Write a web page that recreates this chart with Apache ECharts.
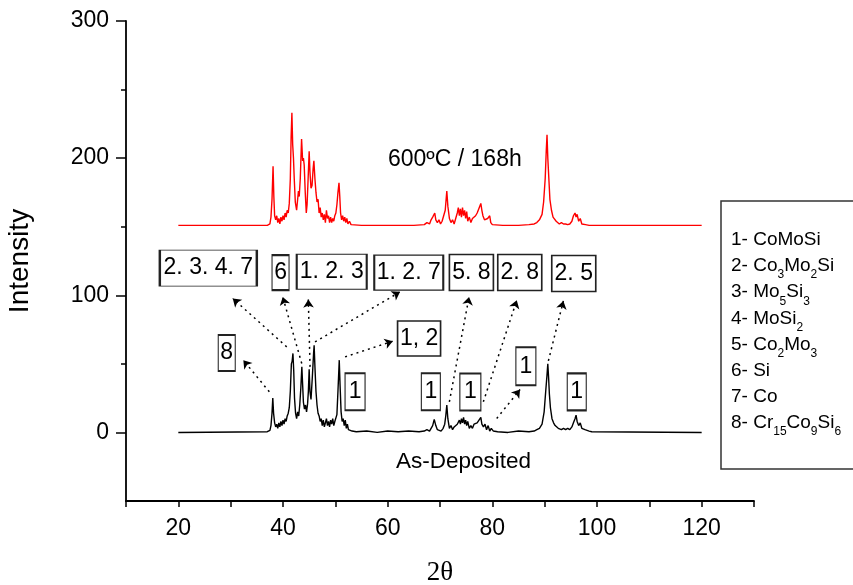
<!DOCTYPE html>
<html>
<head>
<meta charset="utf-8">
<script src="https://cdn.jsdelivr.net/npm/echarts@6.0.0/dist/echarts.min.js"></script>
<style>
  html, body { margin: 0; padding: 0; background: #fff; }
  #main { width: 853px; height: 585px; }
</style>
</head>
<body>
<div id="main"></div>
<script>
// [2θ, intensity]
const asDeposited = [
  [20, 0], [37, 0.5], [37.5, 1.5], [37.7, 5], [37.9, 14], [38.05, 25], [38.2, 14], [38.4, 7], [38.6, 4], [38.8, 6],
  [39.0, 3], [39.2, 7], [39.4, 4], [39.6, 8], [39.8, 5], [40.0, 9], [40.2, 6], [40.4, 10], [40.6, 8], [40.8, 12],
  [41.0, 14], [41.2, 18], [41.4, 30], [41.6, 50], [41.75, 52], [41.9, 57.6], [42.05, 45], [42.2, 25], [42.4, 14],
  [42.6, 10], [42.8, 15], [43.0, 12], [43.2, 20], [43.4, 32], [43.6, 47.8], [43.75, 35], [43.9, 22], [44.1, 17],
  [44.3, 20], [44.5, 15], [44.7, 21], [44.85, 30], [45.0, 46], [45.15, 30], [45.35, 24], [45.6, 40], [45.85, 58],
  [45.95, 63.6], [46.1, 48], [46.3, 30], [46.5, 20], [46.7, 14], [46.9, 12], [47.1, 8], [47.3, 10], [47.5, 5],
  [47.7, 9], [47.9, 4], [48.1, 7], [48.3, 10], [48.5, 5], [48.7, 8], [48.9, 4], [49.1, 9], [49.3, 6], [49.5, 10],
  [49.7, 5], [49.9, 8], [50.1, 9], [50.3, 13], [50.5, 30], [50.75, 52.7], [50.9, 35], [51.1, 15], [51.3, 8],
  [51.5, 10], [51.7, 5], [51.9, 9], [52.1, 3], [52.3, 6], [52.5, 2], [52.8, 3], [53.2, 1], [54, 0.5], [56, 1],
  [58, 0], [60, 1], [62, 0.5], [64, 1], [66, 0.5], [67, 1], [67.5, 2], [68, 1], [68.3, 3], [68.6, 5], [68.9, 9.5],
  [69.2, 5], [69.5, 2], [69.8, 3], [70.2, 1], [70.6, 3], [70.9, 6], [71.1, 12], [71.3, 20], [71.5, 10], [71.8, 3],
  [72.1, 5], [72.4, 2], [72.7, 4], [73.0, 3], [73.3, 6], [73.5, 5], [73.7, 9], [73.9, 6], [74.1, 10], [74.3, 7],
  [74.5, 11], [74.7, 6], [74.9, 9], [75.1, 5], [75.3, 8], [75.6, 3], [75.9, 5], [76.2, 3], [76.5, 6], [76.8, 5],
  [77.1, 7], [77.4, 8], [77.8, 11], [78.0, 6], [78.3, 4], [78.6, 6], [78.9, 2], [79.2, 5], [79.5, 1], [79.8, 3],
  [80.2, 1], [81, 0.5], [83, 0], [85, 1], [87, 0.5], [88, 1], [88.5, 2], [89, 3], [89.5, 6], [89.9, 15],
  [90.2, 30], [90.45, 42], [90.6, 50], [90.75, 40], [90.9, 28], [91.1, 18], [91.4, 10], [91.7, 7], [92.0, 5],
  [92.3, 6], [92.6, 3], [92.9, 4], [93.2, 2], [93.6, 3], [94.0, 2], [94.4, 3], [94.8, 2], [95.2, 4], [95.5, 7],
  [95.8, 10], [96.0, 12.6], [96.2, 8], [96.5, 5], [96.8, 7], [97.1, 3], [97.4, 4], [97.7, 2], [98.0, 3],
  [98.5, 1], [99, 0.5], [120, 0]
];

const annealed = [
  [20, 151], [37, 151], [37.5, 152], [37.7, 157], [37.9, 170], [38.1, 194], [38.25, 172], [38.4, 158], [38.6, 155],
  [38.8, 158], [39.0, 153], [39.2, 156], [39.4, 152], [39.6, 157], [39.8, 154], [40.0, 158], [40.2, 155],
  [40.4, 160], [40.6, 157], [40.8, 162], [41.0, 160], [41.2, 167], [41.4, 185], [41.55, 215], [41.7, 233],
  [41.85, 210], [42.0, 200], [42.15, 185], [42.35, 168], [42.6, 162], [42.8, 170], [42.95, 176], [43.1, 172],
  [43.3, 185], [43.55, 214], [43.75, 198], [43.9, 200], [44.05, 195], [44.25, 175], [44.45, 160], [44.6, 166],
  [44.8, 185], [45.0, 205], [45.15, 190], [45.35, 178], [45.55, 180], [45.75, 192], [45.9, 198], [46.1, 185],
  [46.3, 175], [46.5, 168], [46.7, 170], [46.9, 160], [47.1, 164], [47.3, 157], [47.5, 160], [47.7, 155],
  [47.9, 159], [48.1, 153], [48.3, 162], [48.5, 156], [48.7, 158], [48.9, 153], [49.1, 157], [49.3, 153],
  [49.5, 156], [49.7, 154], [49.9, 158], [50.1, 160], [50.3, 166], [50.5, 175], [50.7, 182], [50.85, 172],
  [51.0, 160], [51.2, 155], [51.4, 158], [51.6, 154], [51.8, 157], [52.0, 153], [52.2, 156], [52.4, 152],
  [52.7, 154], [53.0, 151.5], [55, 151], [60, 151], [65, 151], [67, 151.5], [67.5, 153], [68, 152], [68.3, 155],
  [68.6, 157], [69.0, 160], [69.2, 155], [69.5, 153], [69.8, 155], [70.1, 152], [70.4, 154], [70.7, 158],
  [71.0, 162], [71.3, 176], [71.5, 165], [71.8, 156], [72.1, 153], [72.4, 155], [72.7, 152], [73.0, 156],
  [73.3, 160], [73.5, 164], [73.7, 158], [73.9, 163], [74.1, 157], [74.3, 164], [74.5, 158], [74.7, 162],
  [74.9, 156], [75.1, 161], [75.3, 154], [75.6, 157], [75.9, 153], [76.2, 156], [76.5, 155], [76.8, 158],
  [77.1, 160], [77.4, 163], [77.8, 167], [78.0, 162], [78.2, 158], [78.5, 155], [78.8, 154], [79.1, 156],
  [79.5, 158], [79.7, 153], [80.0, 151.5], [82, 151], [85, 151], [87, 151.5], [88, 152], [88.5, 153], [89, 155],
  [89.5, 159], [89.8, 168], [90.1, 185], [90.3, 205], [90.45, 217], [90.6, 200], [90.8, 185], [91.0, 170],
  [91.3, 162], [91.6, 157], [91.9, 156], [92.2, 154], [92.5, 155], [92.8, 152], [93.2, 153], [93.6, 152],
  [94.0, 152], [94.4, 151.5], [94.8, 152], [95.2, 154], [95.5, 158], [95.8, 160], [96.0, 157], [96.2, 159],
  [96.5, 154], [96.8, 156], [97.1, 152], [97.4, 153], [97.8, 151.5], [98.5, 151], [120, 151]
];

const xLabels = [20, 40, 60, 80, 100, 120];
const yLabels = [0, 100, 200, 300];
const yMinor = [50, 150, 250];

// phase key (right hand box), {s|..} = subscript
const phaseKey = [
  '1- CoMoSi',
  '2- Co{s|3}Mo{s|2}Si',
  '3- Mo{s|5}Si{s|3}',
  '4- MoSi{s|2}',
  '5- Co{s|2}Mo{s|3}',
  '6- Si',
  '7- Co',
  '8- Cr{s|15}Co{s|9}Si{s|6}'
];

// peak tags: text and centre (2θ, intensity)
const tagText = ['2. 3. 4. 7', '6', '1. 2. 3', '1. 2. 7', '5. 8', '2. 8', '2. 5', '8', '1, 2', '1', '1', '1', '1', '1'];
const tagAt = [
  [25.73, 119.8], [39.53, 116.5], [49.31, 117.1], [64.03, 116.5], [76.0, 116.6], [85.24, 116.6], [95.56, 115.9],
  [29.25, 57.9], [66.0, 68.5], [53.77, 29.6], [68.25, 29.7], [75.8, 29.4], [86.41, 48.2], [96.13, 29.6]
];
// dotted arrows: from peak to tag
const arrows = [
  [[40.71, 62.4], [30.4, 97.7]],
  [[43.58, 50.3], [39.95, 98.8]],
  [[45.17, 47.8], [44.84, 96.9]],
  [[46.12, 66.0], [62.37, 102.5]],
  [[37.39, 29.6], [32.42, 52.7]],
  [[51.86, 55.1], [60.97, 66.5]],
  [[71.79, 22.3], [75.55, 98.8]],
  [[78.28, 22.3], [84.67, 96.4]],
  [[80.84, 10.2], [85.30, 31.3]],
  [[90.71, 52.2], [93.57, 95.9]]
];

const FONT = 'Liberation Sans, Arial, sans-serif';
const tagBox = [[97, 36], [17, 35], [70, 35], [69, 35], [44, 36], [44, 36], [44, 36],
  [17, 36], [43, 35], [20, 37], [19, 37], [21, 37], [20, 38], [19, 37]];

let chart = echarts.init(document.getElementById('main'));

let marks = tagText.map(function (t, i) {
  return {name: t, coord: tagAt[i], symbolSize: tagBox[i]};
});
let arrowLines = arrows.map(function (a) {
  return [{coord: a[0]}, {coord: a[1]}];
});

let keyItems = phaseKey.map(function (t, i) {
  let centre = 240 + 26.1 * i;
  return {
    type: 'text',
    x: 731,
    y: centre - 15,
    z: 10,
    style: {
      text: t,
      fill: '#000',
      font: '19px ' + FONT,
      lineHeight: 30,
      verticalAlign: 'top',
      rich: {
        s: {fontSize: 12, fontFamily: FONT, lineHeight: 12, verticalAlign: 'bottom', fill: '#000'}
      }
    }
  };
});

let option = {
  animation: false,
  backgroundColor: '#fff',
  grid: {left: 126, right: 99, top: 21, bottom: 84, containLabel: false, outerBoundsMode: 'none'},
  xAxis: {
    type: 'value',
    min: 10,
    max: 130,
    interval: 10,
    name: '2θ',
    nameLocation: 'middle',
    nameGap: 58,
    nameTextStyle: {fontFamily: 'Liberation Serif, Times New Roman, serif', fontSize: 27, color: '#000'},
    axisLine: {onZero: false, lineStyle: {color: '#000', width: 1.8}},
    axisTick: {length: 6, lineStyle: {color: '#000', width: 1.5}},
    axisLabel: {
      margin: 16,
      fontSize: 23,
      fontFamily: FONT,
      color: '#000',
      formatter: function (v) { return xLabels.indexOf(v) >= 0 ? String(v) : ''; }
    },
    splitLine: {show: false}
  },
  yAxis: [{
    type: 'value',
    min: -50,
    max: 300,
    interval: 50,
    name: 'Intensity',
    nameLocation: 'middle',
    nameRotate: 90,
    nameGap: 92,
    nameTextStyle: {fontFamily: FONT, fontSize: 28, color: '#000'},
    axisLine: {show: true, onZero: false, lineStyle: {color: '#000', width: 1.8}},
    axisTick: {show: true, length: 10, customValues: yLabels, lineStyle: {color: '#000', width: 1.5}},
    axisLabel: {margin: 17, fontSize: 23, fontFamily: FONT, color: '#000', customValues: yLabels},
    splitLine: {show: false}
  }, {
    // short ticks halfway between labels
    type: 'value',
    position: 'left',
    min: -50,
    max: 300,
    interval: 50,
    axisLine: {show: false, onZero: false},
    axisTick: {show: true, length: 5, customValues: yMinor, lineStyle: {color: '#000', width: 1.5}},
    axisLabel: {show: false},
    splitLine: {show: false}
  }],
  series: [{
    name: '600ºC / 168h',
    type: 'line',
    data: annealed,
    symbol: 'none',
    lineStyle: {color: '#ff0000', width: 1.4},
    z: 2
  }, {
    name: 'As-Deposited',
    type: 'line',
    data: asDeposited,
    symbol: 'none',
    lineStyle: {color: '#000', width: 1.4},
    z: 3,
    markLine: {
      silent: true,
      symbol: ['none', 'arrow'],
      symbolSize: 8,
      label: {show: false},
      lineStyle: {color: '#000', width: 1.5, type: [2, 4]},
      data: arrowLines
    },
    markPoint: {
      silent: true,
      symbol: 'rect',
      itemStyle: {color: '#fff', borderColor: '#222', borderWidth: 1.5},
      label: {show: true, position: 'inside', formatter: '{b}', fontSize: 23, fontFamily: FONT, color: '#000'},
      data: marks
    }
  }],
  graphic: [
    {type: 'text', x: 388, y: 148, style: {text: '600ºC / 168h', font: '23px ' + FONT, fill: '#000', verticalAlign: 'top'}},
    {type: 'text', x: 396, y: 450, style: {text: 'As-Deposited', font: '22.5px ' + FONT, fill: '#000', verticalAlign: 'top'}},
    {type: 'rect', shape: {x: 721, y: 201, width: 150, height: 268}, style: {fill: '#fff', stroke: '#333', lineWidth: 1.5}, z: 5}
  ].concat(keyItems)
};

chart.setOption(option);
</script>
</body>
</html>
